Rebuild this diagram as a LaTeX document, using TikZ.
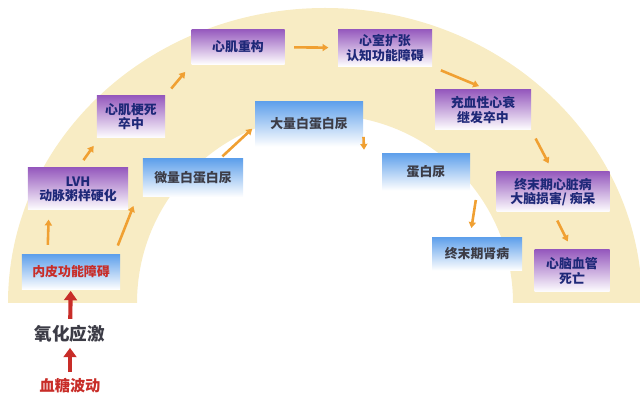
\documentclass[tikz,border=0pt]{standalone}
\usepackage{fontspec}
\setmainfont{Noto Sans CJK SC}
\usetikzlibrary{arrows.meta}
\definecolor{band}{RGB}{248,236,196}
\definecolor{heart}{RGB}{150,90,190}
\definecolor{kidney}{RGB}{95,160,235}
\definecolor{navy}{RGB}{30,40,120}
\definecolor{slate}{RGB}{60,60,70}
\definecolor{alarm}{RGB}{200,45,40}
\definecolor{flow}{RGB}{240,160,50}
\tikzset{
  heartbox/.style={top color=heart, bottom color=white, draw=none, text=navy,
    font=\bfseries\fontsize{11}{12}\selectfont, align=center, inner sep=0pt},
  kidneybox/.style={top color=kidney, bottom color=white, draw=none, text=slate,
    font=\bfseries\fontsize{11}{12}\selectfont, align=center, inner sep=0pt},
  flowarrow/.style={-{Triangle[length=5pt,width=6pt]}, line width=2.2pt, flow, shorten >=8pt, shorten <=8pt},
  redarrow/.style={-{Triangle[length=8pt,width=11pt]}, line width=3.5pt, alarm, shorten >=1pt, shorten <=2pt}
}
\begin{document}
\begin{tikzpicture}[x=0.03cm,y=-0.03cm]
\useasboundingbox (0,0) rectangle (640,402);

% Draw the arch band
\fill[band] (8,303) arc[start angle=180,end angle=360,x radius=317,y radius=295]
  -- (513,303) arc[start angle=360,end angle=180,x radius=188,y radius=188] -- cycle;

% cardiac chain
\node[kidneybox, text=alarm, minimum width=2.94cm, minimum height=1.05cm] (endo) at (71,272) {内皮功能障碍};
\node[heartbox, minimum width=3.0cm, minimum height=1.26cm] (lvh) at (78,189) {LVH\\动脉粥样硬化};
\node[heartbox, minimum width=2.04cm, minimum height=1.26cm] (mi) at (131,117) {心肌梗死\\卒中};
\node[heartbox, minimum width=2.79cm, minimum height=1.05cm] (remodel) at (238,47) {心肌重构};
\node[heartbox, minimum width=2.82cm, minimum height=1.11cm] (dilate) at (385,48) {心室扩张\\认知功能障碍};
\node[heartbox, minimum width=2.88cm, minimum height=1.2cm] (chf) at (483,110) {充血性心衰\\继发卒中};
\node[heartbox, minimum width=3.39cm, minimum height=1.2cm] (esh) at (553,192) {终末期心脏病\\大脑损害/ 痴呆};
\node[heartbox, minimum width=2.25cm, minimum height=1.26cm] (death) at (572,271) {心脑血管\\死亡};

% renal chain
\node[kidneybox, minimum width=3.0cm, minimum height=1.14cm] (micro) at (193,178) {微量白蛋白尿};
\node[kidneybox, minimum width=3.24cm, minimum height=1.35cm] (macro) at (309,124) {大量白蛋白尿};
\node[kidneybox, minimum width=2.64cm, minimum height=1.11cm] (prot) at (426,172) {蛋白尿};
\node[kidneybox, minimum width=2.7cm, minimum height=0.99cm] (esrd) at (477,254) {终末期肾病};

% causes
\node[font=\bfseries\fontsize{15}{16}\selectfont, text=slate] (ox) at (70,334) {氧化应激};
\node[font=\bfseries\fontsize{13}{14}\selectfont, text=alarm] (glu) at (70,386) {血糖波动};

\draw[redarrow] (glu) -- (ox);
\draw[redarrow] (ox) -- (endo);

\draw[flowarrow] ([xshift=22pt]endo.north west) -- ([xshift=18pt]lvh.south west);
\draw[flowarrow] ([xshift=-5pt]endo.north east) -- ([xshift=-5pt]micro.south west);
\draw[flowarrow] (lvh.north) -- ([xshift=2pt]mi.south west);
\draw[flowarrow, shorten <=3pt, shorten >=3pt] ([xshift=-20pt]micro.north east) -- ([yshift=-2pt]macro.west);
\draw[flowarrow] (mi.north east) -- (remodel.south west);
\draw[flowarrow] (remodel) -- (dilate);
\draw[flowarrow] (dilate.south east) -- ([xshift=4pt]chf.north);
\draw[flowarrow, shorten <=5pt, shorten >=3pt] ([yshift=-6pt]macro.east) -- ([xshift=-15pt]prot.north west);
\draw[flowarrow] (chf.south east) -- (esh.north);
\draw[flowarrow] ([xshift=6pt]prot.south east) -- ([xshift=-6pt]esrd.north);
\draw[flowarrow] (esh.south) -- (death.north);
\end{tikzpicture}
\end{document}
